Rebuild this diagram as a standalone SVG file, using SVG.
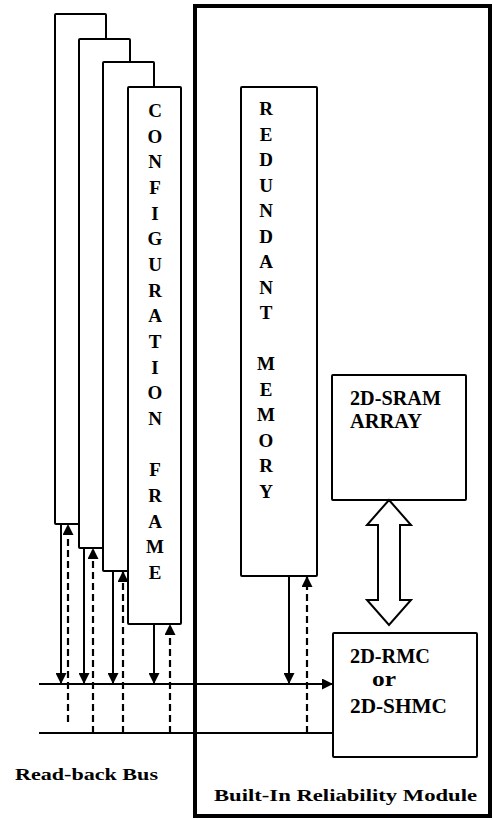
<svg xmlns="http://www.w3.org/2000/svg" width="493" height="820" viewBox="0 0 493 820">
<style>
.box{fill:#fff;stroke:#000;stroke-width:2}
.ln{stroke:#000;stroke-width:2;fill:none}
.ds{stroke:#000;stroke-width:2.2;fill:none;stroke-dasharray:7,4}
.vt{font-family:"Liberation Serif",serif;font-weight:bold;font-size:19px;text-anchor:middle;fill:#000}
.lb{font-family:"Liberation Serif",serif;font-weight:bold;font-size:20px;fill:#000}
.cap{font-family:"Liberation Serif",serif;font-weight:bold;font-size:17px;fill:#000}
</style>
<defs>
<marker id="ah" viewBox="0 0 11 11" refX="11" refY="5.5" markerWidth="11" markerHeight="11" orient="auto" markerUnits="userSpaceOnUse">
<path d="M0,0 L11,5.5 L0,11 z" fill="#000"/>
</marker>
</defs>
<rect width="493" height="820" fill="#fff"/>
<g id="bim">
<rect x="195" y="6" width="295" height="810" fill="none" stroke="#000" stroke-width="4"/>
<text class="cap" x="214" y="801" textLength="263" lengthAdjust="spacingAndGlyphs">Built-In Reliability Module</text>
</g>
<g id="frame1"><rect class="box" x="55" y="14" width="51" height="510" rx="1"/></g>
<g id="frame2"><rect class="box" x="79" y="39" width="51" height="509" rx="1"/></g>
<g id="frame3"><rect class="box" x="103" y="62" width="51" height="509" rx="1"/></g>
<g id="frame4">
<rect class="box" x="128" y="87" width="53" height="537" rx="1"/>
<text class="vt" x="155" y="117">C</text>
<text class="vt" x="155" y="143">O</text>
<text class="vt" x="155" y="168">N</text>
<text class="vt" x="155" y="194">F</text>
<text class="vt" x="155" y="220">I</text>
<text class="vt" x="155" y="245">G</text>
<text class="vt" x="155" y="271">U</text>
<text class="vt" x="155" y="297">R</text>
<text class="vt" x="155" y="322">A</text>
<text class="vt" x="155" y="348">T</text>
<text class="vt" x="155" y="374">I</text>
<text class="vt" x="155" y="399">O</text>
<text class="vt" x="155" y="425">N</text>
<text class="vt" x="155" y="476">F</text>
<text class="vt" x="155" y="502">R</text>
<text class="vt" x="155" y="528">A</text>
<text class="vt" x="155" y="553">M</text>
<text class="vt" x="155" y="579">E</text>
</g>
<g id="redundant">
<rect class="box" x="241" y="87" width="76" height="489" rx="1"/>
<text class="vt" x="266" y="115">R</text>
<text class="vt" x="266" y="141">E</text>
<text class="vt" x="266" y="166">D</text>
<text class="vt" x="266" y="192">U</text>
<text class="vt" x="266" y="217">N</text>
<text class="vt" x="266" y="243">D</text>
<text class="vt" x="266" y="268">A</text>
<text class="vt" x="266" y="294">N</text>
<text class="vt" x="266" y="319">T</text>
<text class="vt" x="266" y="370">M</text>
<text class="vt" x="266" y="396">E</text>
<text class="vt" x="266" y="421">M</text>
<text class="vt" x="266" y="447">O</text>
<text class="vt" x="266" y="472">R</text>
<text class="vt" x="266" y="498">Y</text>
</g>
<g id="sram">
<rect class="box" x="332" y="375" width="134" height="125" rx="1"/>
<text class="lb" x="350" y="405" textLength="91" lengthAdjust="spacingAndGlyphs">2D-SRAM</text>
<text class="lb" x="350" y="428" textLength="72" lengthAdjust="spacingAndGlyphs">ARRAY</text>
</g>
<g id="rmc">
<rect class="box" x="333" y="633" width="144" height="124" rx="1"/>
<text class="lb" x="350" y="663" textLength="80" lengthAdjust="spacingAndGlyphs">2D-RMC</text>
<text class="lb" x="372" y="686" textLength="24" lengthAdjust="spacingAndGlyphs">or</text>
<text class="lb" x="350" y="713" textLength="97" lengthAdjust="spacingAndGlyphs">2D-SHMC</text>
</g>
<g id="readback">
<text class="cap" x="15" y="780" textLength="143" lengthAdjust="spacingAndGlyphs">Read-back Bus</text>
</g>
<g id="connectors">
<line class="ln" x1="39" y1="684" x2="333" y2="684" marker-end="url(#ah)"/>
<line class="ln" x1="39" y1="733" x2="333" y2="733"/>
<path d="M389,500 L411,525 L400,525 L400,600 L411,600 L389,625 L367,600 L378,600 L378,525 L367,525 Z" fill="#fff" stroke="#000" stroke-width="2" stroke-linejoin="miter"/>
<line class="ln" x1="61" y1="524" x2="61" y2="684" marker-end="url(#ah)"/>
<line class="ds" x1="68" y1="722" x2="68" y2="524" marker-end="url(#ah)"/>
<line class="ln" x1="84" y1="548" x2="84" y2="684" marker-end="url(#ah)"/>
<line class="ds" x1="93" y1="733" x2="93" y2="548" marker-end="url(#ah)"/>
<line class="ln" x1="113" y1="571" x2="113" y2="684" marker-end="url(#ah)"/>
<line class="ds" x1="123" y1="733" x2="123" y2="571" marker-end="url(#ah)"/>
<line class="ln" x1="154" y1="624" x2="154" y2="684" marker-end="url(#ah)"/>
<line class="ds" x1="170" y1="733" x2="170" y2="624" marker-end="url(#ah)"/>
<line class="ln" x1="289" y1="576" x2="289" y2="684" marker-end="url(#ah)"/>
<line class="ds" x1="307" y1="733" x2="307" y2="576" marker-end="url(#ah)"/>
</g>
</svg>
